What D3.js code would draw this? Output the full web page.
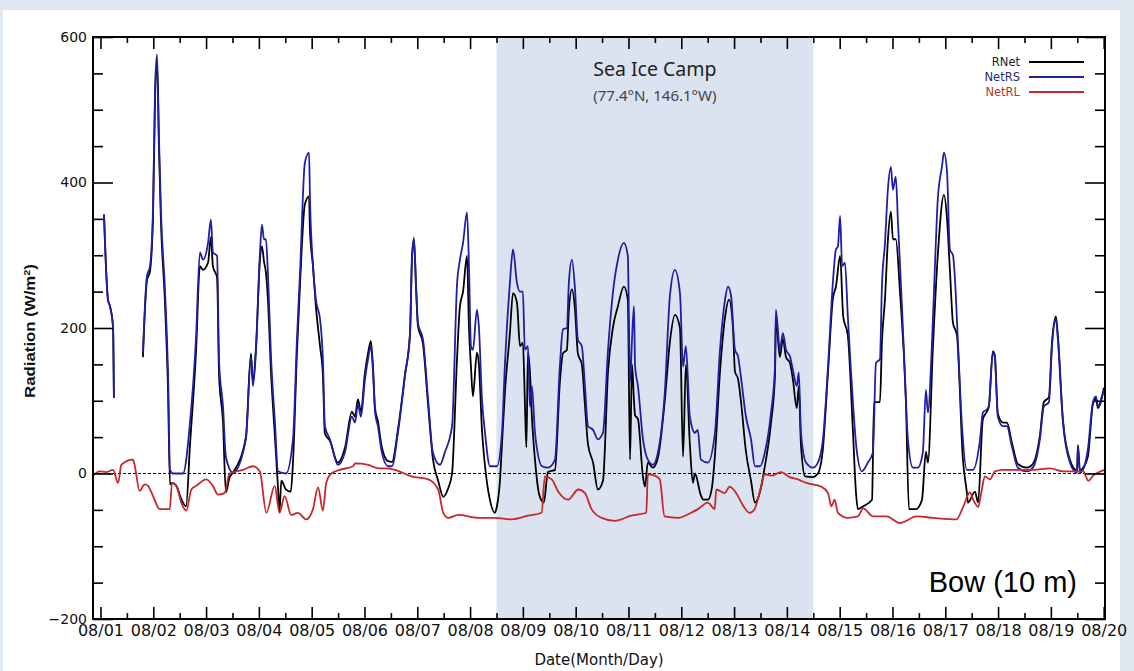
<!DOCTYPE html>
<html>
<head>
<meta charset="utf-8">
<script src="https://cdn.jsdelivr.net/npm/d3@7"></script>
<style>
  html, body { margin: 0; padding: 0; background: #dfe7f1; }
  svg { display: block; }
</style>
</head>
<body>
<svg id="chart" width="1134" height="671"></svg>
<script>
// ---- Data (hours since 08/01 00:00) ----
const dayLabels = ["08/01","08/02","08/03","08/04","08/05","08/06","08/07","08/08","08/09","08/10",
                   "08/11","08/12","08/13","08/14","08/15","08/16","08/17","08/18","08/19","08/20"];
const yTickValues = [-200, 0, 200, 400, 600];
const seriesNames = ["RNet", "NetRS", "NetRL"];
const shadeStartHour = 180;   // 08/08 12:00
const shadeEndHour = 324;     // 08/14 12:00

const netRSHours = [1.6,3.4,4.3,5.7,6.1,12,
 19.3,21.1,22.5,23.9,24.8,25.7,26.6,27.5,29.3,30.7,31.6,33,37.5,40.7,43.4,45.2,46.6,48.9,50.2,51.1,53,53.9,55.7,57,60.2,
 66.1,68.4,69.3,70.7,72.5,73.4,74.3,75.2,76.1,77.5,79.3,80.7,84.3,87.5,89.3,90.7,92.9,94.8,95.2,96.6,97.9,99.8,101.1,102,
 104.3,107.9,111.1,114.3,115.7,117,118.4,120.2,121.6,122.9,123.9,124.8,126.1,127.9,130.7,132.5,135.2,138.4,140.7,141.6,
 142.5,143.4,144.3,146.6,148.9,151.1,154.3,156.5,159.8,162.1,163.4,164.8,166.6,167.5,168.4,169.3,171.1,172,173.4,174.8,
 177,180.2,182.5,183.8,186.1,187.5,189.3,190.7,192,192.9,194.3,195.2,196.1,197.5,200.7,203.4,206.6,208.8,210.2,212,212.9,
 214.3,215.7,217,218.8,220.2,221.6,223.9,226.1,228.4,230.7,232.9,235.2,237.9,239.7,240.7,241.6,242.5,243,244.3,246.6,
 248.8,251.1,253.4,256.5,258.8,261.1,263.4,264.8,266.1,267.9,270.2,271.5,272.9,276.1,279.3,281.6,283.9,285.2,286.6,288.4,
 289.8,291.1,293.4,295.7,297.5,299.8,302,304.8,306.6,307,308.8,310.2,311.6,313.4,314.7,316.5,317.4,318.4,320.7,323.8,
 326.1,328.4,330.7,332.9,334.3,335.2,336.2,337.1,338.4,339.7,341,342.4,343.7,346.1,348.8,351.1,352.5,354.3,355.2,356.6,
 357.9,359.3,360.2,361.5,362.5,364.3,365.6,367,369.3,371.5,373.8,375.2,376.1,377.9,379.3,380.6,382.5,383.4,384.8,386.1,
 387.5,388.4,389.7,391.5,393.8,396.5,399.8,401.1,402.9,403.8,405.6,406.5,407.9,410.2,412,414.3,417,421.1,423.8,427,428.8,
 431.1,432.5,434.3,435.2,437.5,440.7,443.9,444.3,445.2,446.6,448.8,451.1,452.5,453.4,455.2,456.1];
const netRSValues = [356,239,230,202,104,null,
 166,271,285,367,528,576,459,359,253,139,5,0,0,70,184,304,294,317,349,304,299,153,92,23,1,
 47,161,120,170,304,342,322,322,276,161,70,3,0,47,184,276,427,441,381,285,239,212,157,65,
 47,12,29,78,70,95,78,129,157,175,139,84,65,29,10,10,56,134,193,299,
 324,262,207,184,102,29,12,29,65,262,294,317,359,285,175,170,225,202,102,56,
 10,10,56,147,262,308,262,250,250,170,175,92,120,56,10,8,19,147,198,200,262,
 294,253,184,175,120,65,60,47,56,170,248,294,317,299,125,184,230,147,120,47,
 19,12,29,111,243,280,248,147,175,78,56,60,19,15,56,170,239,257,245,170,
 161,133,78,47,10,10,29,84,147,225,170,193,170,161,143,120,139,56,15,8,
 15,47,147,262,308,312,354,285,290,216,147,80,33,3,15,29,152,157,257,317,
 390,421,390,408,345,230,139,47,8,8,29,115,84,175,285,377,422,441,414,308,
 300,267,184,70,5,5,47,84,88,92,166,160,78,65,65,37,8,3,8,47,92,
 98,175,212,184,70,15,1,36,1,5,33,98,106,92,106,115];

const rNetHours = [1.6,3.4,4.3,5.7,6.1,12,
 19.3,21.1,22.5,23.9,24.8,25.7,26.6,27.5,29.3,30.7,31.6,32.5,34.5,36.7,38.9,40.7,43.4,45.2,46.6,48.9,50.2,51.1,53,53.9,
 55.7,57,58.7,60.2,66.1,68.4,69.3,70.7,72.5,73.4,74.3,75.2,76.1,77.5,79.3,80.7,81.4,82.2,84.3,86.5,87.5,89.3,90.7,92.9,
 94.8,95.2,96.6,97.9,99.8,101.1,102,104.3,107.9,111.1,114.3,115.7,117,118.4,120.2,121.6,122.9,123.9,124.8,126.1,127.9,
 130.7,132.5,135.2,138.4,140.7,141.6,142.5,143.4,144.3,146.6,148.9,151.1,153.5,155.8,158.1,159.8,162.1,163.4,164.8,166.6,
 167.5,168.4,169.3,171.1,172,173.4,174.8,177,179.3,180.2,181.5,182.5,183.8,186.1,187.5,189.3,190.7,192,192.9,193.6,194.3,
 195.2,196.1,197.5,199.5,201.5,203.4,206.6,208.8,210.2,212,212.9,214.3,215.7,217,218.8,220.2,221.6,223.9,226.1,228.4,
 230.7,232.9,235.2,237.9,239.7,240.7,241.6,242.5,243,244.3,246.6,247.5,248.8,251.1,253.4,256.5,258.8,261.1,263.4,264.8,
 266.1,267.9,269.3,270.2,272.9,274,276.1,277.9,279.3,281.6,283.9,285.7,287.5,288.4,289.8,291.1,293.4,295.7,297.5,299.8,
 302,304.8,306.6,307,308.8,310.2,311.6,313.4,314.7,316.5,317.4,318.4,320.3,323.8,326.1,328.4,330.7,332.9,334.3,336.2,
 337.6,339.7,342,343.4,344.3,346.7,350.7,351.6,354.3,355.2,356.6,357.9,359.3,360.2,361.5,363.4,366.1,367.5,370.7,373.4,
 375.2,376.1,378.4,380.6,383.4,384.8,386.1,387.5,389.3,392,393.8,394.3,397.5,398.9,401.1,402.9,403.8,405.6,406.5,407.9,
 410.2,412,414.3,417,421.1,423.8,427,428.8,431.1,432.5,434.3,435.2,437.5,440.7,443.9,444.3,445.2,446.6,448.8,451.1,452.5,
 453.4,455.2,456.1];
const rNetValues = [356,239,230,202,104,null,
 160,265,278,355,515,565,445,345,235,115,-15,-13,-17,-35,-45,40,165,285,280,290,325,285,269,135,
 70,-26,-5,1,50,165,125,175,295,312,292,276,240,140,50,-20,-52,-10,-22,-25,15,165,260,370,
 381,335,285,230,175,135,55,45,15,35,85,78,102,85,138,165,182,145,90,72,36,
 17,16,60,136,192,295,320,258,203,178,95,20,-10,-32,-20,0,160,230,250,299,
 200,147,106,166,150,60,10,-36,-54,-45,-13,40,110,193,248,235,175,180,100,36,166,
 140,78,19,-30,-40,2,5,125,165,170,225,253,225,165,150,95,40,15,-22,-10,
 140,200,230,257,239,19,150,100,80,75,-5,-18,15,8,22,100,180,218,200,23,
 150,40,-13,0,-30,-36,-36,-20,25,140,215,239,200,140,130,100,30,-10,-40,-25,
 10,70,135,215,160,185,160,152,130,90,120,40,-4,-5,0,35,140,240,257,299,
 216,190,60,-26,-49,-45,-36,98,98,180,240,320,360,322,322,250,100,-49,-49,-36,
 30,15,175,300,383,350,280,207,190,20,-26,-40,-25,-40,75,85,92,168,163,82,
 70,70,42,13,8,13,52,98,105,180,216,188,73,18,4,39,4,8,23,95,103,
 90,104,118];

const netRLHours = [-3.4,-0.4,2.5,5.7,8,9.5,14.8,15.5,17.8,20.1,21.6,23.9,26.9,31.5,32.5,34.5,36.7,39,41.3,43.5,48.1,
 51.1,53.4,56.4,58.7,64.8,69.3,72.4,75.4,79.2,81.4,83.7,86.7,89.8,93.5,96.6,98.9,101.1,102.6,104.9,108.7,114.8,115.7,
 121.7,126.3,129.3,133.9,141.4,149,153.5,155.8,158.1,162.6,171.7,179.3,186.9,194.4,200.5,202,205.1,208.1,212.6,217.2,
 220.2,223.2,227.8,233.7,241.3,248.1,248.8,251.9,254.2,256.4,262.5,268.5,271.6,276.1,279.2,279.9,283.7,286,289,291.3,
 295.1,297.3,300.3,301.9,304.9,309.4,313.2,317,320.8,327.6,330.7,332.2,333.7,335.2,339.7,344.3,346.7,351.2,357.3,363.4,
 371,378.5,389.1,392.1,395.2,396.7,399,400.5,402,404.3,406.6,410.3,424,431.6,437.6,446.7,449,451.2,456.5];
const netRLValues = [-3,3,2,5,-13,12,19,12,-24,-15,-17,-31,-49,-49,-13,-17,-40,-51,-22,-17,-8,
 -17,-29,-27,0,5,10,3,-54,-17,-54,-31,-57,-54,-63,-49,-19,-51,-13,0,5,10,14,
 12,7,7,5,-4,-8,-22,-54,-61,-57,-61,-61,-63,-58,-54,-4,-8,-25,-36,-22,
 -27,-49,-61,-65,-58,-54,-1,-3,-8,-59,-61,-54,-49,-40,-49,-22,-27,-18,-27,-40,
 -54,-49,-18,-1,-3,2,-5,-8,-13,-18,-27,-45,-36,-54,-61,-59,-48,-59,-59,-68,
 -59,-61,-63,-46,-26,-36,-46,-24,-4,-8,3,5,5,7,3,3,-10,-3,5];

// ---- Layout ----
const svg = d3.select("#chart");
const W = 1134, H = 671;
const plot = { left: 93, right: 1105, top: 37, bottom: 619 };

svg.append("rect").attr("x", 0).attr("y", 0).attr("width", W).attr("height", H).attr("fill", "#dfe7f1");
svg.append("rect").attr("x", 3).attr("y", 10).attr("width", 1117).attr("height", H - 10).attr("fill", "#ffffff");

const x = d3.scaleLinear().domain([-3.4, 456.6]).range([plot.left, plot.right]);
const y = d3.scaleLinear().domain([-200, 600]).range([plot.bottom, plot.top]);

// shaded period
svg.append("rect")
  .attr("x", x(shadeStartHour)).attr("y", plot.top)
  .attr("width", x(shadeEndHour) - x(shadeStartHour))
  .attr("height", plot.bottom - plot.top)
  .attr("fill", "#dae3ef");

// clip
svg.append("clipPath").attr("id", "clip").append("rect")
  .attr("x", plot.left).attr("y", plot.top)
  .attr("width", plot.right - plot.left).attr("height", plot.bottom - plot.top);

// zero dashed line
svg.append("line")
  .attr("x1", plot.left).attr("x2", plot.right)
  .attr("y1", y(0)).attr("y2", y(0))
  .attr("stroke", "#000").attr("stroke-width", 1).attr("stroke-dasharray", "3,2");

const line = d3.line()
  .defined(d => d[1] !== null)
  .curve(d3.curveMonotoneX)
  .x(d => x(d[0])).y(d => y(d[1]));

const colors = { "RNet": "#000000", "NetRS": "#1f1fa6", "NetRL": "#c8282a" };
const seriesData = {
  "RNet": d3.zip(rNetHours, rNetValues),
  "NetRS": d3.zip(netRSHours, netRSValues),
  "NetRL": d3.zip(netRLHours, netRLValues)
};
const gLines = svg.append("g").attr("clip-path", "url(#clip)");
seriesNames.forEach(name => {
  gLines.append("path")
    .datum(seriesData[name])
    .attr("d", line)
    .attr("fill", "none")
    .attr("stroke", colors[name])
    .attr("stroke-width", 1.8)
    .attr("stroke-linejoin", "round");
});

// ---- Axes ----
const dayTicks = dayLabels.map((_, i) => i * 24);
const halfDayTicks = d3.range(0, dayLabels.length - 1).map(i => i * 24 + 12);
const fmtDay = h => dayLabels[Math.round(h / 24)];

function styleAxis(g) {
  g.select(".domain").remove();
  g.selectAll(".tick line").attr("stroke", "#000").attr("stroke-width", 1.6);
}

// bottom
const xAxisB = svg.append("g").attr("transform", `translate(0,${plot.bottom})`)
  .call(d3.axisBottom(x).tickValues(dayTicks).tickSizeInner(-12).tickSizeOuter(0).tickPadding(5).tickFormat(fmtDay));
styleAxis(xAxisB);
xAxisB.selectAll("text").attr("font-family", "DejaVu Sans, sans-serif").attr("font-size", 16)
  .attr("fill", "#111").attr("dy", "0").attr("y", 17);
svg.append("g").attr("transform", `translate(0,${plot.bottom})`)
  .call(d3.axisBottom(x).tickValues(halfDayTicks).tickSizeInner(-6).tickSizeOuter(0).tickFormat(""))
  .call(styleAxis);
// top
svg.append("g").attr("transform", `translate(0,${plot.top})`)
  .call(d3.axisTop(x).tickValues(dayTicks).tickSizeInner(-12).tickSizeOuter(0).tickFormat(""))
  .call(styleAxis);
svg.append("g").attr("transform", `translate(0,${plot.top})`)
  .call(d3.axisTop(x).tickValues(halfDayTicks).tickSizeInner(-6).tickSizeOuter(0).tickFormat(""))
  .call(styleAxis);

// left
const minorY = d3.range(-200, 601, 50).filter(v => v % 200 !== 0);
const yAxisL = svg.append("g").attr("transform", `translate(${plot.left},0)`)
  .call(d3.axisLeft(y).tickValues(yTickValues).tickSizeInner(-20).tickSizeOuter(0).tickPadding(6)
    .tickFormat(v => v < 0 ? "\u2212" + Math.abs(v) : String(v)));
styleAxis(yAxisL);
yAxisL.selectAll("text").attr("font-family", "DejaVu Sans, sans-serif").attr("font-size", 14).attr("fill", "#111")
  .attr("x", -6);
svg.append("g").attr("transform", `translate(${plot.left},0)`)
  .call(d3.axisLeft(y).tickValues(minorY).tickSizeInner(-10).tickSizeOuter(0).tickFormat(""))
  .call(styleAxis);
// right
svg.append("g").attr("transform", `translate(${plot.right},0)`)
  .call(d3.axisRight(y).tickValues(yTickValues).tickSizeInner(-20).tickSizeOuter(0).tickFormat(""))
  .call(styleAxis);
svg.append("g").attr("transform", `translate(${plot.right},0)`)
  .call(d3.axisRight(y).tickValues(minorY).tickSizeInner(-10).tickSizeOuter(0).tickFormat(""))
  .call(styleAxis);

// frame
svg.append("rect")
  .attr("x", plot.left).attr("y", plot.top)
  .attr("width", plot.right - plot.left).attr("height", plot.bottom - plot.top)
  .attr("fill", "none").attr("stroke", "#000").attr("stroke-width", 2);

// axis titles
svg.append("text")
  .attr("x", (plot.left + plot.right) / 2).attr("y", 665)
  .attr("text-anchor", "middle")
  .attr("font-family", "DejaVu Sans, sans-serif").attr("font-size", 15).attr("fill", "#111")
  .text("Date(Month/Day)");
const yt = svg.append("text")
  .attr("transform", `translate(35,331) rotate(-90) scale(1.2,1)`)
  .attr("text-anchor", "middle")
  .attr("font-family", "Liberation Sans, Arial, sans-serif").attr("font-size", 14).attr("font-weight", "bold")
  .attr("fill", "#111");
yt.append("tspan").text("Radiation (W/m");
yt.append("tspan").attr("font-size", 9).attr("dy", -5).text("2");
yt.append("tspan").attr("dy", 5).text(")");

// legend
const legendX = 1020, legendY0 = 62, legendStep = 15;
const legendTextColors = { "RNet": "#222222", "NetRS": "#2a2a80", "NetRL": "#b03838" };
seriesNames.forEach((name, i) => {
  const ly = legendY0 + i * legendStep;
  svg.append("text")
    .attr("x", legendX).attr("y", ly + 4)
    .attr("text-anchor", "end")
    .attr("font-family", "DejaVu Sans, sans-serif").attr("font-size", 11.5)
    .attr("fill", legendTextColors[name])
    .text(name);
  svg.append("line")
    .attr("x1", 1029).attr("x2", 1084).attr("y1", ly).attr("y2", ly)
    .attr("stroke", colors[name]).attr("stroke-width", 1.8);
});

// annotations
const cx = (x(shadeStartHour) + x(shadeEndHour)) / 2;
svg.append("text").attr("x", cx).attr("y", 76).attr("text-anchor", "middle")
  .attr("font-family", "Noto Sans, Open Sans, sans-serif").attr("font-size", 19.5).attr("fill", "#222")
  .text("Sea Ice Camp");
svg.append("text").attr("x", cx).attr("y", 101).attr("text-anchor", "middle")
  .attr("font-family", "Noto Sans, Open Sans, sans-serif").attr("font-size", 15).attr("fill", "#444")
  .text("(77.4°N, 146.1°W)");
svg.append("text").attr("x", 1077).attr("y", 592).attr("text-anchor", "end")
  .attr("font-family", "Liberation Sans, Arial, sans-serif").attr("font-size", 29).attr("fill", "#000")
  .text("Bow (10 m)");
</script>
</body>
</html>
